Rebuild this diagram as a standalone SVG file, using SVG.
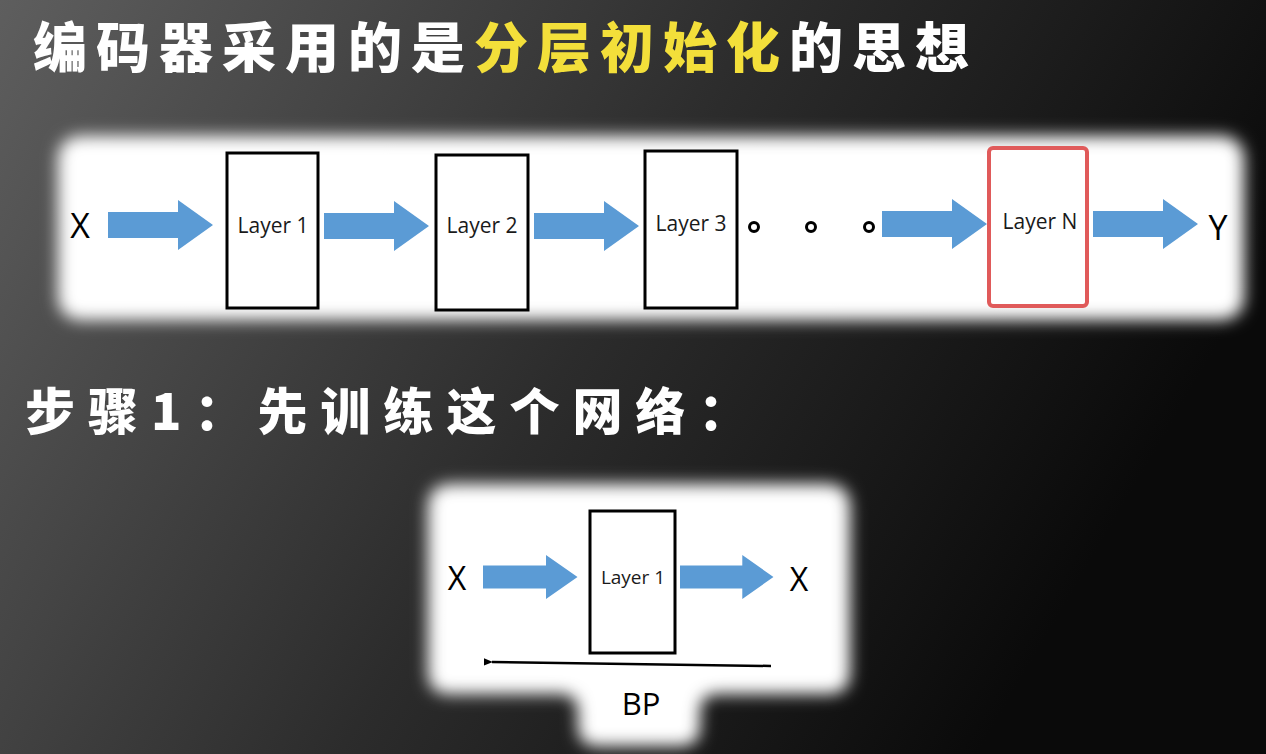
<svg xmlns="http://www.w3.org/2000/svg" width="1266" height="754" viewBox="0 0 1266 754">
<defs>
<linearGradient id="bg" x1="0" y1="0" x2="1" y2="0.35">
<stop offset="0" stop-color="#5e5e5e"/>
<stop offset="0.55" stop-color="#2c2c2c"/>
<stop offset="1" stop-color="#0a0a0a"/>
</linearGradient>
<filter id="glow" x="-10%" y="-20%" width="120%" height="140%">
<feGaussianBlur stdDeviation="8"/>
</filter>
<marker id="ah" viewBox="0 0 10 10" refX="1" refY="5" markerWidth="9" markerHeight="9" orient="auto" markerUnits="userSpaceOnUse">
<path d="M10,1 L0,5 L10,9 Z" fill="#000"/>
</marker>
<path id="bigArrow" d="M0,-13 L70,-13 L70,-25 L105,0 L70,25 L70,13 L0,13 Z"/>
</defs>
<style>
.title{font-family:"Noto Sans CJK SC","Noto Sans",sans-serif;font-weight:900;font-size:54px;fill:#ffffff;letter-spacing:9px}
.hl{fill:#f3df3a}
.box{fill:#fff;stroke:#000;stroke-width:3}
.lbl{font-family:"Open Sans","Noto Sans",sans-serif;font-size:21px;fill:#1a1a1a;text-anchor:middle}
.xy{font-family:"Open Sans","Noto Sans",sans-serif;font-size:34px;fill:#000;text-anchor:middle}
.arr{fill:#5b9bd5}
.dot{fill:none;stroke:#000;stroke-width:3}
</style>
<rect width="1266" height="754" fill="url(#bg)"/>
<text class="title" x="33" y="68">编码器采用的是<tspan class="hl">分层初始化</tspan>的思想</text>
<text class="title" x="25" y="430" style="font-size:50px;letter-spacing:13px">步骤1：先训练这个网络：</text>
<g id="panel1">
<rect x="58" y="136" width="1186" height="184" rx="22" fill="#fff" filter="url(#glow)"/>
</g>
<g id="panel2">
<path d="M452,484 L826,484 Q850,484 850,508 L850,672 Q850,694 828,694 L718,694 Q700,694 700,712 L700,726 Q700,746 680,746 L598,746 Q578,746 578,726 L578,712 Q578,694 560,694 L450,694 Q428,694 428,672 L428,508 Q428,484 452,484 Z" fill="#fff" filter="url(#glow)"/>
</g>
<g id="connectors">
<use href="#bigArrow" class="arr" transform="translate(108,225)"/>
<use href="#bigArrow" class="arr" transform="translate(324,226)"/>
<use href="#bigArrow" class="arr" transform="translate(534,226)"/>
<use href="#bigArrow" class="arr" transform="translate(882,224)"/>
<use href="#bigArrow" class="arr" transform="translate(1093,224)"/>
<use href="#bigArrow" class="arr" transform="translate(483,577) scale(0.9,0.88)"/>
<use href="#bigArrow" class="arr" transform="translate(680,577) scale(0.89,0.88)"/>
<line x1="771" y1="666" x2="492" y2="662" stroke="#000" stroke-width="2.5" marker-end="url(#ah)"/>
</g>
<g id="X_in"><text class="xy" x="80" y="238">X</text></g>
<g id="layer1"><rect class="box" x="227" y="153" width="91" height="155"/><text class="lbl" x="273" y="233">Layer 1</text></g>
<g id="layer2"><rect class="box" x="436" y="155" width="92" height="155"/><text class="lbl" x="482" y="233">Layer 2</text></g>
<g id="layer3"><rect class="box" x="645" y="151" width="92" height="157"/><text class="lbl" x="691" y="231">Layer 3</text></g>
<g id="dots"><circle class="dot" cx="754" cy="227" r="4.5"/><circle class="dot" cx="811" cy="227" r="4.5"/><circle class="dot" cx="869" cy="227" r="4.5"/></g>
<g id="layerN"><rect x="989" y="148" width="98" height="158" rx="4" fill="#fff" stroke="#e05a5a" stroke-width="4"/><text class="lbl" x="1040" y="229">Layer N</text></g>
<g id="Y_out"><text class="xy" x="1218" y="240">Y</text></g>
<g id="X2_in"><text class="xy" x="457" y="590" style="font-size:32px">X</text></g>
<g id="layer1b"><rect class="box" x="590" y="511" width="85" height="142"/><text class="lbl" x="633" y="584" style="font-size:19px">Layer 1</text></g>
<g id="X2_out"><text class="xy" x="799" y="591" style="font-size:32px">X</text></g>
<g id="BP"><text class="xy" x="641" y="715" style="font-size:31px">BP</text></g>
</svg>
